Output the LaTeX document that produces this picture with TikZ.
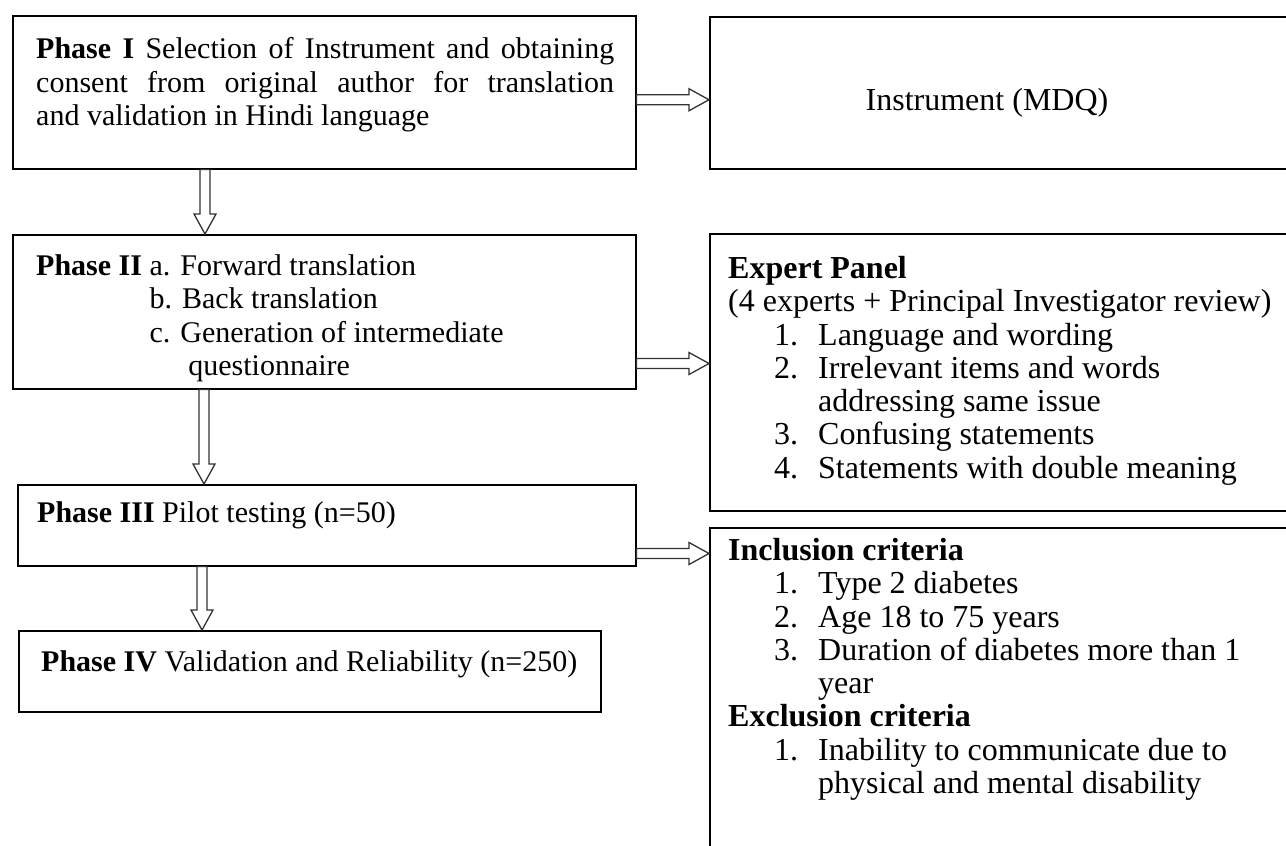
\documentclass[tikz,border=0pt]{standalone}
\usepackage{fontspec}
\setmainfont{Liberation Serif}
\usetikzlibrary{positioning,calc}
\tikzset{
    flow-box/.style = {draw=black, line width=1.5pt, rectangle, inner sep=0pt, anchor=north west},
    flow-text/.style = {inner sep=0pt, anchor=north west, align=left, font=\fontsize{30}{33.3}\selectfont},
    side-text/.style = {flow-text, font=\fontsize{32}{33.3}\selectfont},
    hollow-arrow/.style = {draw=black!80, line width=1.3pt, fill=white, line join=miter},
}
\newcommand{\numitem}[2]{\hspace*{46pt}\makebox[44pt][l]{#1}#2}
\newcommand{\hollowarrow}[2]{%
    \draw[hollow-arrow] ($(#1)!5pt!90:(#2)$)
        -- ($(#2)!20pt!(#1)!5pt!90:(#2)$) -- ($(#2)!20pt!(#1)!11pt!90:(#2)$)
        -- (#2)
        -- ($(#2)!20pt!(#1)!11pt!-90:(#2)$) -- ($(#2)!20pt!(#1)!5pt!-90:(#2)$)
        -- ($(#1)!5pt!-90:(#2)$) -- cycle;}

\begin{document}
\begin{tikzpicture}[x=1pt, y=-1pt]
\useasboundingbox (0,0) rectangle (1286,846);
\clip (0,0) rectangle (1286,846);

% phases
\node[flow-box, minimum width=623pt, minimum height=153pt] (phase1) at (12,15) {};
\node[flow-box, minimum width=623pt, minimum height=154pt] (phase2) at (12,234) {};
\node[flow-box, minimum width=618pt, minimum height=81pt] (phase3) at (17,484) {};
\node[flow-box, minimum width=582pt, minimum height=81pt] (phase4) at (18,630) {};

% boxes on the right (cut off at the page edge)
\node[flow-box, minimum width=620pt, minimum height=152pt] (instrument) at (709,16) {};
\node[flow-box, minimum width=620pt, minimum height=277pt] (expert) at (709,233) {};
\node[flow-box, minimum width=620pt, minimum height=360pt] (criteria) at (709,527) {};

\node[flow-text, text width=578pt, align=justify, below right=22.5pt and 24pt of phase1.north west] (phase1-text)
    {\textbf{Phase I} Selection of Instrument and obtaining\linebreak consent from original author for translation\linebreak and validation in Hindi language};
\node[flow-text, below right=20.5pt and 24pt of phase2.north west] (phase2-text)
    {\textbf{Phase II} a. Forward translation\\
     \hphantom{\textbf{Phase II} }b. Back translation\\
     \hphantom{\textbf{Phase II} }c. Generation of intermediate\\
     \hphantom{\textbf{Phase II} c. }\hspace*{8pt}questionnaire};
\node[flow-text, below right=17.5pt and 20pt of phase3.north west] (phase3-text)
    {\textbf{Phase III} Pilot testing (n=50)};
\node[flow-text, below right=20.5pt and 23pt of phase4.north west] (phase4-text)
    {\textbf{Phase IV} Validation and Reliability (n=250)};

\node[side-text, anchor=base] (instrument-text) at ([shift={(278pt,-18pt)}]instrument.west)
    {Instrument (MDQ)};
\node[side-text, below right=23pt and 19pt of expert.north west] (expert-text)
    {\textbf{Expert Panel}\\
     (4 experts + Principal Investigator review)\\
     \numitem{1.}{Language and wording}\\
     \numitem{2.}{Irrelevant items and words}\\
     \hspace*{90pt}addressing same issue\\
     \numitem{3.}{Confusing statements}\\
     \numitem{4.}{Statements with double meaning}};
\node[side-text, below right=11pt and 19pt of criteria.north west] (criteria-text)
    {\textbf{Inclusion criteria}\\
     \numitem{1.}{Type 2 diabetes}\\
     \numitem{2.}{Age 18 to 75 years}\\
     \numitem{3.}{Duration of diabetes more than 1}\\
     \hspace*{90pt}year\\
     \textbf{Exclusion criteria}\\
     \numitem{1.}{Inability to communicate due to}\\
     \hspace*{90pt}physical and mental disability};

% arrows
\coordinate (a1) at ([yshift=-7.5pt]phase1.east);
\coordinate (a2) at ([xshift=193pt]phase1.south west);
\coordinate (a3) at ([yshift=26pt]phase2.south east);
\coordinate (a4) at ([xshift=192pt]phase2.south west);
\coordinate (a5) at ([yshift=13pt]phase3.south east);
\coordinate (a6) at ([xshift=185pt]phase3.south west);
\hollowarrow{a1}{a1 -| instrument.west}
\hollowarrow{a2}{a2 |- phase2.north}
\hollowarrow{a3}{a3 -| expert.west}
\hollowarrow{a4}{a4 |- phase3.north}
\hollowarrow{a5}{a5 -| criteria.west}
\hollowarrow{a6}{a6 |- phase4.north}
\end{tikzpicture}
\end{document}
